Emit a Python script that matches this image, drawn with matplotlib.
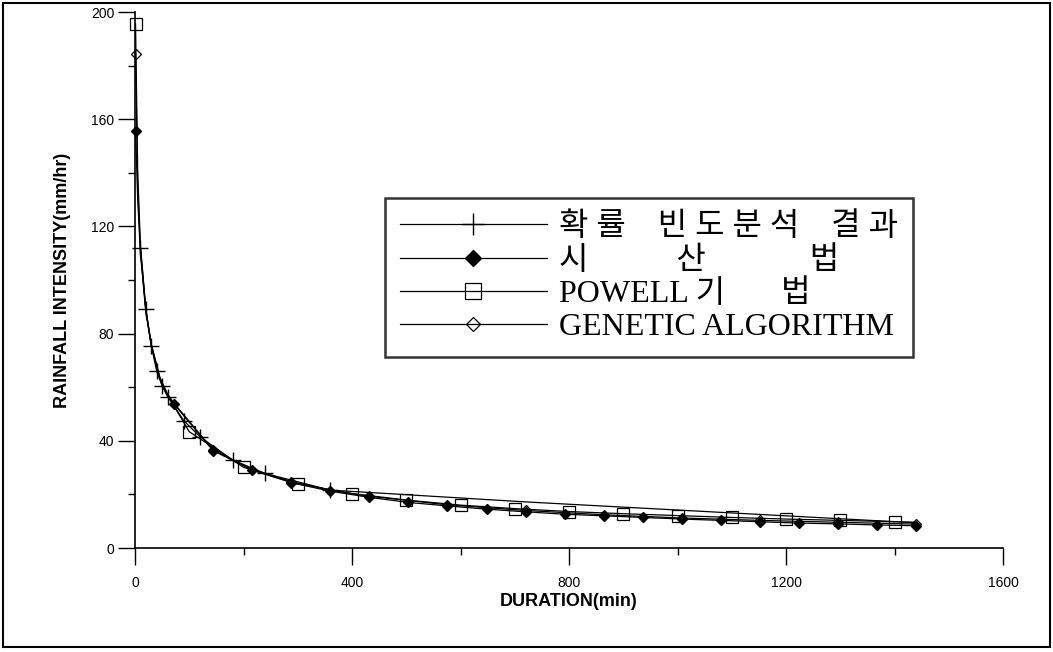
import matplotlib.pyplot as plt
from matplotlib.patches import Rectangle

plt.rcParams['font.family'] = ['Liberation Sans', 'DejaVu Sans']

# probability frequency analysis (+)
d_prob = [10, 20, 30, 40, 50, 60, 90, 120, 180, 240, 360, 720, 1440]
i_prob = [112.0, 89.0, 75.5, 66.0, 60.5, 56.5, 47.5, 41.5, 32.8, 27.8, 21.6, 17.2, 9.4]

# trial method (filled diamonds every 72 min)
d_trial = [1, 5, 10, 20, 30, 45, 60, 72, 144, 216, 288, 360, 432, 504, 576, 648,
           720, 792, 864, 936, 1008, 1080, 1152, 1224, 1296, 1368, 1440]
i_trial = [155.5, 130.0, 110.0, 88.0, 75.5, 63.5, 57.0, 53.7, 36.3, 29.1, 24.4, 21.2,
           18.9, 17.0, 15.7, 14.5, 13.5, 12.6, 12.0, 11.4, 10.8, 10.3, 9.8, 9.3, 9.0, 8.6, 8.3]

# POWELL method (squares every 100 min)
d_powell = [1, 5, 10, 20, 30, 50, 100, 200, 300, 400, 500, 600, 700, 800, 900,
            1000, 1100, 1200, 1300, 1400, 1440]
i_powell = [195.5, 140.0, 113.0, 89.0, 76.0, 60.5, 43.4, 30.1, 23.9, 20.3, 17.9, 16.0,
            14.7, 13.6, 12.8, 12.1, 11.4, 10.8, 10.3, 9.8, 9.6]

# genetic algorithm (open diamonds every 144 min)
d_ga = [1, 5, 10, 20, 30, 45, 60, 72, 144, 216, 288, 360, 432, 576, 720, 864,
        1008, 1152, 1296, 1440]
i_ga = [184.5, 135.0, 111.0, 88.5, 76.0, 64.0, 57.5, 54.0, 36.6, 29.4, 24.8, 21.6,
        19.3, 16.1, 14.0, 12.4, 11.2, 10.3, 9.6, 8.9]

labels = ['확 률    빈 도 분 석    결 과', '시' + ' ' * 11 + '산' + ' ' * 13 + '법',
          'POWELL 기' + ' ' * 7 + '법', 'GENETIC ALGORITHM']

fig = plt.figure(figsize=(10.53, 6.52), dpi=100)
ax = fig.add_axes([135/1053, 1-548/652, (1003-135)/1053, (548-12)/652])

ax.plot(d_prob, i_prob, color='k', lw=0.9, marker='+', ms=11, mew=1.0,
        markevery=[i for i, d in enumerate(d_prob) if d <= 360],
        label=labels[0], clip_on=False)
ax.plot(d_trial, i_trial, color='k', lw=0.9, marker='D', ms=5.5, mfc='k',
        markevery=[i for i, d in enumerate(d_trial) if d == 1 or d % 72 == 0],
        label=labels[1], clip_on=False)
ax.plot(d_powell, i_powell, color='k', lw=0.9, marker='s', ms=8, mfc='none', mew=0.9,
        markevery=[i for i, d in enumerate(d_powell) if d == 1 or d % 100 == 0],
        label=labels[2], clip_on=False)
ax.plot(d_ga, i_ga, color='k', lw=0.9, marker='D', ms=5, mfc='none', mew=0.9,
        markevery=[i for i, d in enumerate(d_ga) if d == 1 or d % 144 == 0],
        label=labels[3], clip_on=False)

ax.set_xlim(0, 1600)
ax.set_ylim(0, 200)
ax.set_xticks(range(0, 1601, 400))
ax.set_xticks(range(200, 1600, 400), minor=True)
ax.set_yticks(range(0, 201, 40))
ax.set_yticks(range(20, 200, 40), minor=True)
ax.tick_params(which='major', direction='out', length=12, width=1, labelsize=10)
ax.tick_params(which='minor', direction='out', length=5, width=1)
ax.tick_params(axis='x', which='major', pad=8)
ax.tick_params(axis='y', which='major', pad=3)
for s in ['top', 'right']:
    ax.spines[s].set_visible(False)
for s in ['left', 'bottom']:
    ax.spines[s].set_linewidth(1.2)

ax.set_xlabel('DURATION(min)', fontsize=13, fontweight='bold', labelpad=2)
ax.set_ylabel('RAINFALL INTENSITY(mm/hr)', fontsize=13, fontweight='bold', labelpad=14)

leg = ax.legend(loc='upper left', bbox_to_anchor=(385/1053, 1-198/652),
                bbox_transform=fig.transFigure, borderaxespad=0, frameon=True,
                fancybox=False, edgecolor='k', handlelength=4.6, handletextpad=0.4,
                borderpad=0.46, labelspacing=0.11, markerscale=1.5,
                prop={'family': ['Liberation Serif', 'Noto Sans CJK KR'], 'size': 23})
leg.get_frame().set_linewidth(1.8)

fig.patches.append(Rectangle((3/1053, 1-647/652), 1047/1053, 644/652, fill=False,
                             ec='k', lw=1.5, transform=fig.transFigure))

fig.savefig('out.png', dpi=100)
